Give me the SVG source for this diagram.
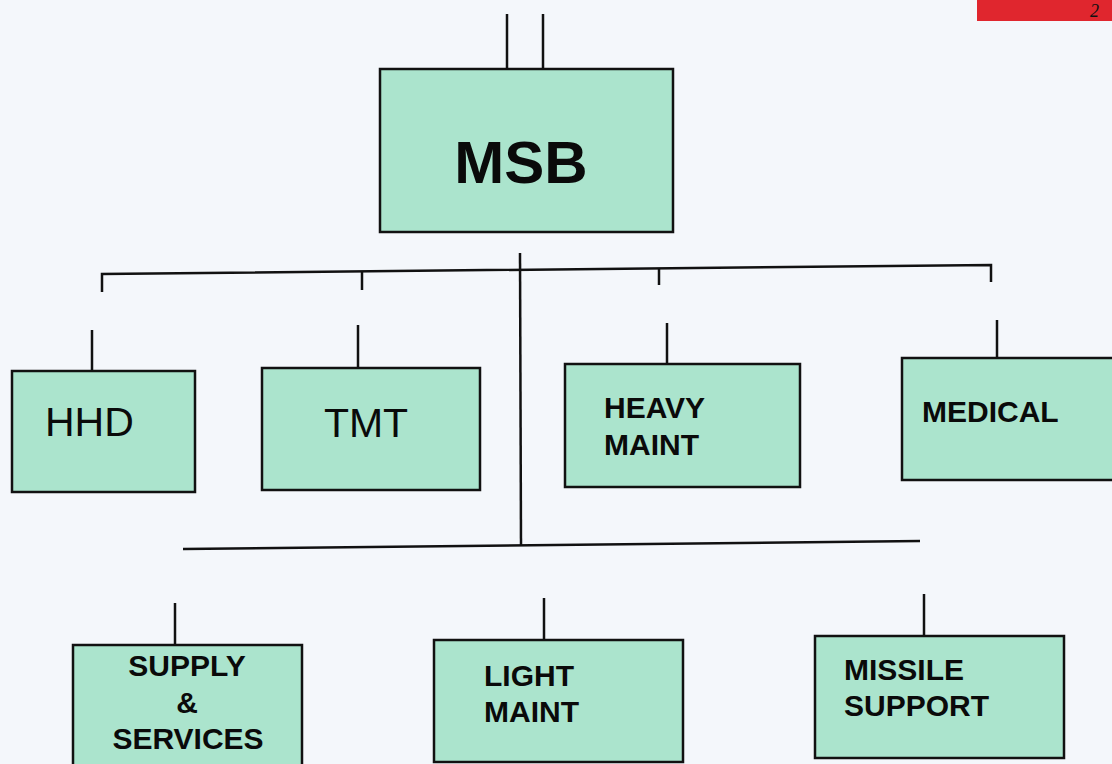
<svg xmlns="http://www.w3.org/2000/svg" width="1112" height="764" viewBox="0 0 1112 764">
<style>
.box{fill:#abe4cd;stroke:#111;stroke-width:2.5}
.ln{stroke:#111;stroke-width:2.5;fill:none}
.b{font-family:"Liberation Sans",Arial,sans-serif;font-weight:bold;font-size:30px;fill:#0a0a0a}
.r{font-family:"Liberation Sans",Arial,sans-serif;font-size:41px;fill:#0a0a0a}
</style>
<rect width="1112" height="764" fill="#f4f7fb"/>
<rect x="977" y="0" width="135" height="21" fill="#e0262e"/>
<text x="1090" y="17" font-family="Liberation Serif,serif" font-style="italic" font-size="18" fill="#111">2</text>
<g id="connectors">
<line class="ln" x1="507" y1="14" x2="507" y2="69"/>
<line class="ln" x1="543" y1="14" x2="543" y2="69"/>
<polyline class="ln" points="102,292 102,274 991,265 991,282"/>
<line class="ln" x1="362" y1="272" x2="362" y2="290"/>
<line class="ln" x1="659" y1="268" x2="659" y2="285"/>
<line class="ln" x1="520" y1="253" x2="521" y2="546"/>
<line class="ln" x1="183" y1="549" x2="920" y2="541"/>
<line class="ln" x1="92" y1="330" x2="92" y2="371"/>
<line class="ln" x1="358" y1="325" x2="358" y2="368"/>
<line class="ln" x1="667" y1="323" x2="667" y2="364"/>
<line class="ln" x1="997" y1="320" x2="997" y2="358"/>
<line class="ln" x1="175" y1="603" x2="175" y2="645"/>
<line class="ln" x1="544" y1="598" x2="544" y2="640"/>
<line class="ln" x1="924" y1="594" x2="924" y2="636"/>
</g>
<g id="msb">
<rect class="box" x="380" y="69" width="293" height="163"/>
<text x="521" y="183" text-anchor="middle" font-family="Liberation Sans,Arial,sans-serif" font-weight="bold" font-size="60" fill="#0a0a0a">MSB</text>
</g>
<g id="hhd">
<rect class="box" x="12" y="371" width="183" height="121"/>
<text class="r" x="45" y="436">HHD</text>
</g>
<g id="tmt">
<rect class="box" x="262" y="368" width="218" height="122"/>
<text class="r" x="366" y="437" text-anchor="middle">TMT</text>
</g>
<g id="heavy-maint">
<rect class="box" x="565" y="364" width="235" height="123"/>
<text class="b" x="604" y="418">HEAVY</text>
<text class="b" x="604" y="455">MAINT</text>
</g>
<g id="medical">
<rect class="box" x="902" y="358" width="214" height="122"/>
<text class="b" x="922" y="422">MEDICAL</text>
</g>
<g id="supply-services">
<rect class="box" x="73" y="645" width="229" height="125"/>
<text class="b" x="187" y="676" text-anchor="middle">SUPPLY</text>
<text class="b" x="187" y="713" text-anchor="middle">&amp;</text>
<text class="b" x="188" y="749" text-anchor="middle">SERVICES</text>
</g>
<g id="light-maint">
<rect class="box" x="434" y="640" width="249" height="122"/>
<text class="b" x="484" y="686">LIGHT</text>
<text class="b" x="484" y="722">MAINT</text>
</g>
<g id="missile-support">
<rect class="box" x="815" y="636" width="249" height="122"/>
<text class="b" x="844" y="680">MISSILE</text>
<text class="b" x="844" y="716">SUPPORT</text>
</g>
</svg>
